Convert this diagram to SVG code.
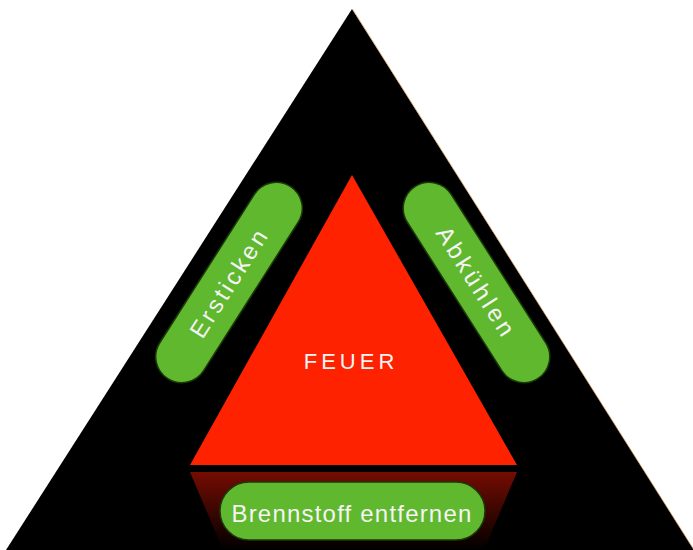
<svg xmlns="http://www.w3.org/2000/svg" width="693" height="550" viewBox="0 0 693 550">
  <defs>
    <linearGradient id="fuelGrad" x1="0" y1="0" x2="0" y2="1">
      <stop offset="0" stop-color="#750c02"/>
      <stop offset="1" stop-color="#000000"/>
    </linearGradient>
    <style>
      .pill { fill: #60b82f; stroke: #1a3a08; stroke-width: 1.5; }
      .lbl { font-family: "Liberation Sans", Arial, sans-serif; fill: #f4f4f4; text-anchor: middle; }
    </style>
  </defs>
  <rect x="0" y="0" width="693" height="550" fill="#ffffff"/>
  <g id="outer-triangle">
    <polygon points="352,9 6,550 694,550" fill="#000000"/>
    <line x1="353" y1="10" x2="694" y2="550" stroke="#d89a58" stroke-width="1" opacity="0.7"/>
  </g>
  <g id="fire">
    <polygon points="352,175 190,465 517,465" fill="#ff2200"/>
    <text class="lbl" x="351" y="369" font-size="22" letter-spacing="4">FEUER</text>
  </g>
  <g id="fuel-base">
    <polygon points="190,472 517,472 484,550 223,550" fill="url(#fuelGrad)"/>
  </g>
  <g id="ersticken">
    <g transform="translate(229,282.5) rotate(-57.5)">
      <rect class="pill" x="-114" y="-26" width="228" height="52" rx="26"/>
      <text class="lbl" x="0" y="8.5" font-size="24" letter-spacing="3">Ersticken</text>
    </g>
  </g>
  <g id="abkuehlen">
    <g transform="translate(476.5,282.5) rotate(57.5)">
      <rect class="pill" x="-114" y="-26" width="228" height="52" rx="26"/>
      <text class="lbl" x="0" y="8.5" font-size="24" letter-spacing="3.5">Abkühlen</text>
    </g>
  </g>
  <g id="brennstoff">
    <rect class="pill" x="220" y="482" width="265" height="58" rx="29"/>
    <text class="lbl" x="352" y="522" font-size="24" letter-spacing="1.2">Brennstoff entfernen</text>
  </g>
  <g id="connectors"/>
</svg>
